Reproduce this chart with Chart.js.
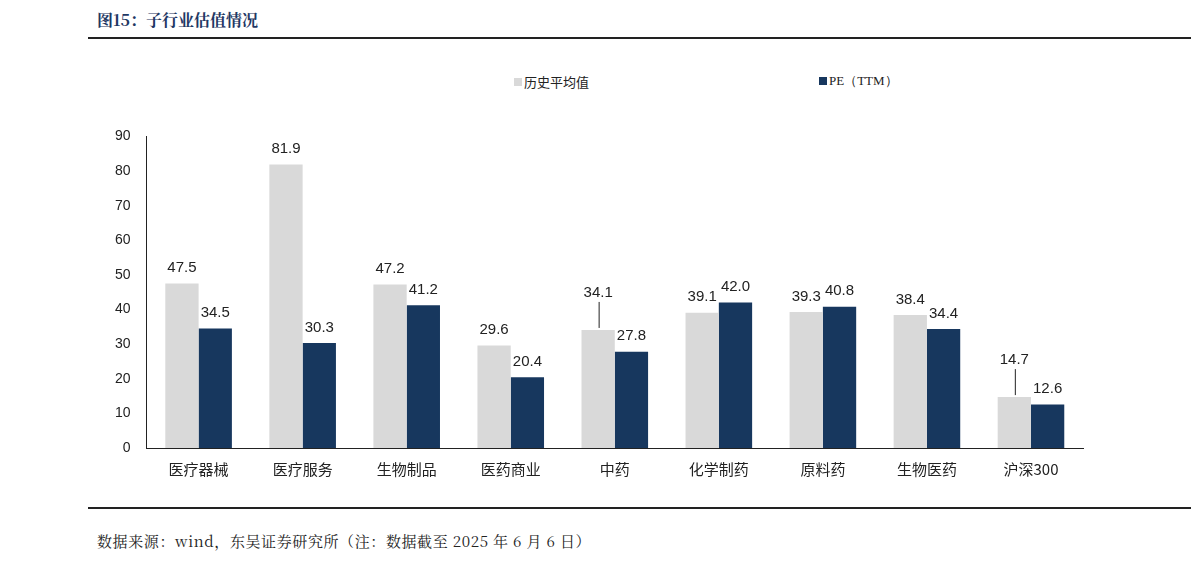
<!DOCTYPE html>
<html><head><meta charset="utf-8">
<script src="https://cdn.jsdelivr.net/npm/chart.js@4/dist/chart.umd.min.js"></script>
<style>
body{margin:0;width:1191px;height:563px;background:#fff;position:relative;font-family:"Noto Sans CJK SC",sans-serif;overflow:hidden}
#title{position:absolute;left:97px;top:8px;font-size:16px;font-weight:bold;color:#1f3864;font-family:"Noto Serif CJK SC","Noto Sans CJK SC",serif}
.hl{position:absolute;left:88px;right:0;height:2px;background:#222}
#src{position:absolute;left:97px;top:530px;font-size:15px;color:#222;letter-spacing:0.6px;font-family:"Noto Serif CJK SC","Liberation Serif","Noto Sans CJK SC",serif}
.lg{position:absolute;top:72px;font-size:13px;color:#222;display:flex;align-items:center}
.lg i{display:inline-block;width:8px;height:8px;margin-right:2px}
#wrap{position:absolute;left:107px;top:120px;width:993px;height:362px}
</style></head><body>
<div id="title">图15：子行业估值情况</div>
<div class="hl" style="top:37px"></div>
<div class="lg" style="left:514px"><i style="background:#d9d9d9"></i>历史平均值</div>
<div class="lg" style="left:819px"><i style="background:#17375e"></i><span style="font-family:'Liberation Serif',serif">PE（TTM）</span></div>
<div id="wrap"><canvas id="c"></canvas></div>
<div class="hl" style="top:507px"></div>
<div id="src">数据来源：wind，东吴证券研究所（注：数据截至 2025 年 6 月 6 日）</div>
<script>
const categories=["医疗器械","医疗服务","生物制品","医药商业","中药","化学制药","原料药","生物医药","沪深300"];
const histAvg=[47.5,81.9,47.2,29.6,34.1,39.1,39.3,38.4,14.7];
const peTTM=[34.5,30.3,41.2,20.4,27.8,42.0,40.8,34.4,12.6];
const yTicks=[0,10,20,30,40,50,60,70,80,90];
const lift={0:{4:22,8:22}};
const labels={id:'lbl',afterDatasetsDraw(ch){const c=ch.ctx;c.save();c.font='15px "Liberation Sans",Arial';c.fillStyle='#222';c.textAlign='center';c.textBaseline='bottom';
ch.data.datasets.forEach((ds,di)=>{ch.getDatasetMeta(di).data.forEach((b,i)=>{const l=(lift[di]&&lift[di][i])||0;let x=b.x,y=b.y-8-l;
if(l){c.strokeStyle='#222';c.lineWidth=1;c.beginPath();c.moveTo(b.x+1,y+2);c.lineTo(b.x+1,b.y-2);c.stroke();}
c.fillText(ds.data[i].toFixed(1),x,y);});});c.restore();}};
new Chart(document.getElementById('c'),{type:'bar',
data:{labels:categories,datasets:[{data:histAvg,backgroundColor:'#d9d9d9'},{data:peTTM,backgroundColor:'#17375e'}]},
options:{responsive:true,maintainAspectRatio:false,animation:false,layout:{padding:{left:0,right:17,top:12,bottom:0}},
plugins:{legend:{display:false},tooltip:{enabled:false}},
datasets:{bar:{categoryPercentage:0.64,barPercentage:1}},
scales:{x:{grid:{display:false},border:{color:'#222'},ticks:{color:'#222',font:{size:15,family:'"Noto Sans CJK SC"'},padding:4}},
y:{min:0,max:90,afterBuildTicks:a=>{a.ticks=yTicks.map(v=>({value:v}))},grid:{display:false,drawTicks:true},border:{color:'#222'},ticks:{color:'#222',font:{size:14,family:'"Liberation Sans"'},padding:8}}}},
plugins:[labels]});
</script></body></html>
